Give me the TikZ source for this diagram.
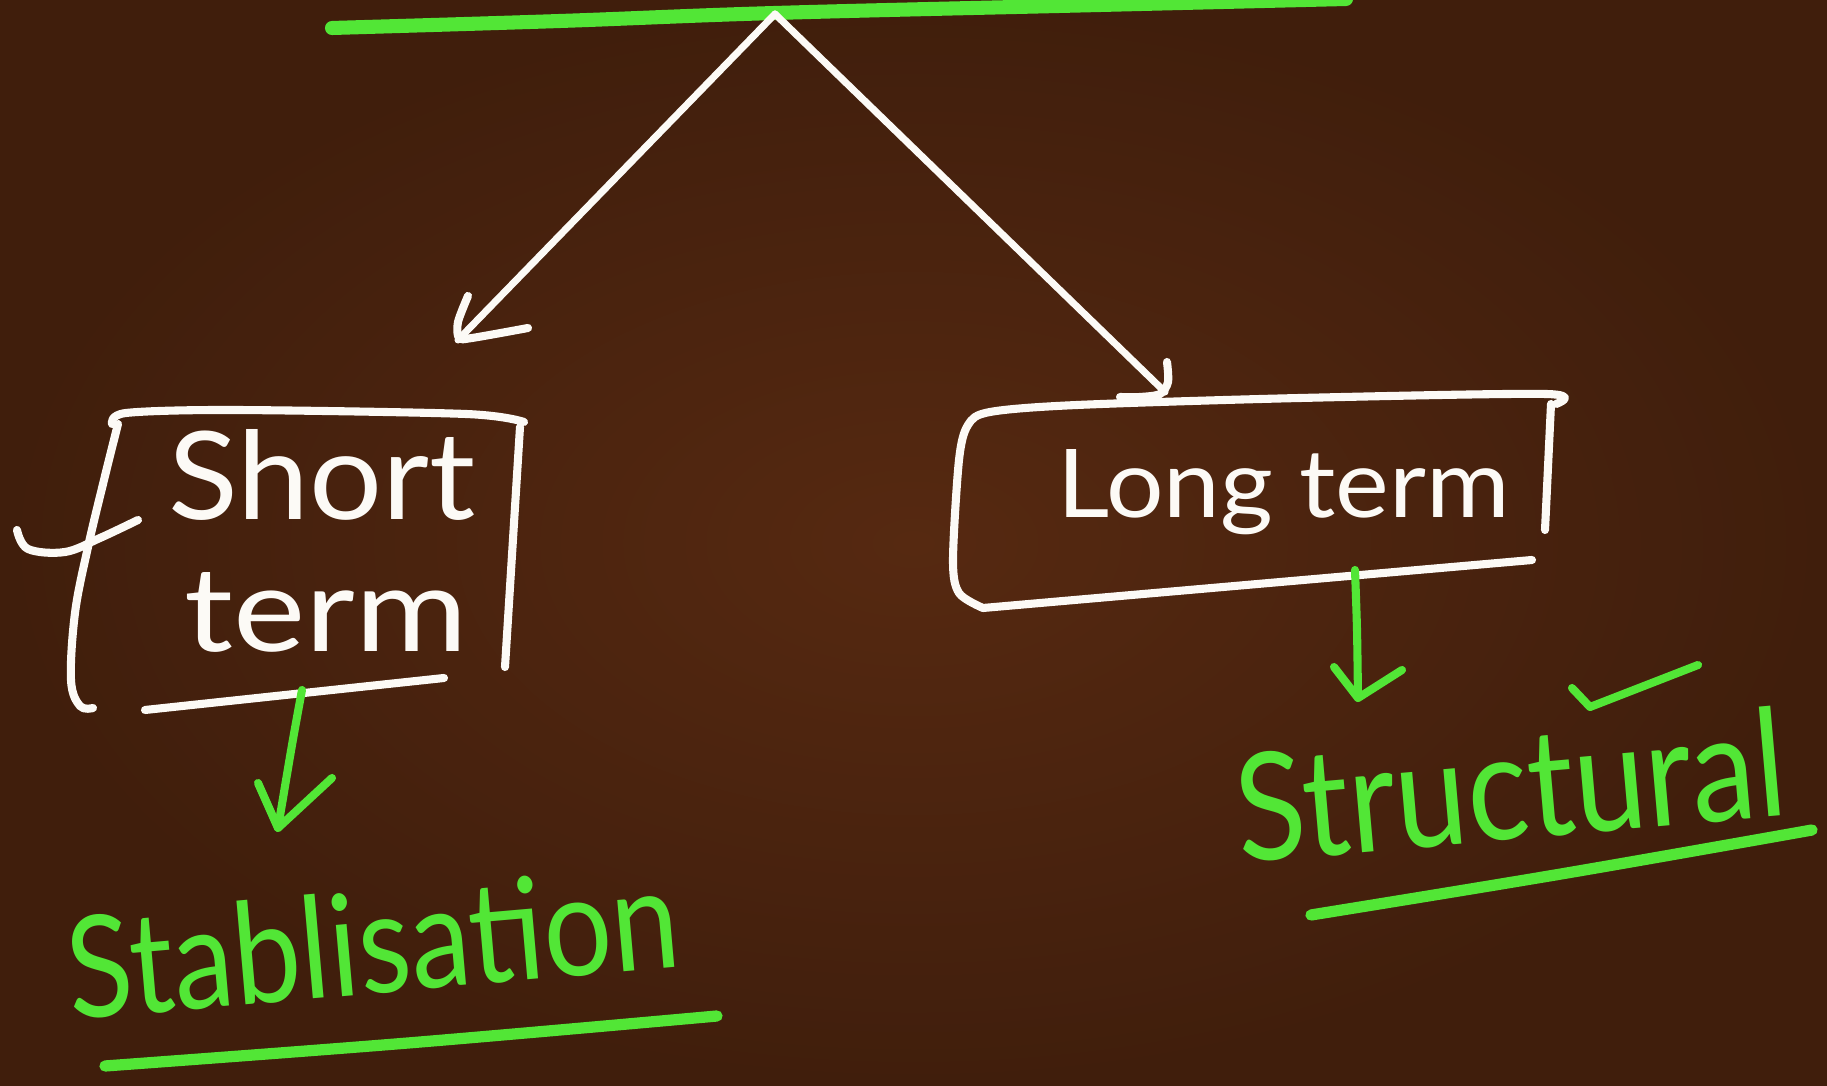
\documentclass[tikz,border=0pt]{standalone}
\usepackage{fontspec}
\setmainfont{Lato}
\usepackage{graphicx}
\newlength\pxu
\setlength\pxu{0.01cm}
\begin{document}
\begin{tikzpicture}[x=0.01cm,y=-0.01cm, line cap=round, line join=round]
\definecolor{board}{RGB}{86,41,17}
\definecolor{boardedge}{RGB}{64,30,12}
\definecolor{chalk}{RGB}{252,250,246}
\definecolor{hilite}{RGB}{82,230,54}
\tikzset{
  wline/.style={draw=chalk, line width=2.3pt},
  wshaft/.style={draw=chalk, line width=2pt},
  gline/.style={draw=hilite, line width=2.3pt},
  gbold/.style={draw=hilite, line width=3.2pt},
  hand/.style={inner sep=0pt, anchor=base west},
}
% board
\fill[inner color=board, outer color=boardedge] (0,0) rectangle (1827,1086);
\useasboundingbox (0,0) rectangle (1827,1086);

% heading underline and the split point
\draw[gbold, line width=4pt] plot[smooth, tension=0.6] coordinates {(332,28) (560,21) (775,13) (1100,5) (1346,-1)};
\coordinate (apex) at (775,14);

% short term box
\coordinate (stTip) at (458,340);
\draw[wshaft] (apex) -- (stTip);
\draw[wline] plot[smooth, tension=0.5] coordinates {(468,296) (458,322) (459,338) (472,338) (528,328)};
\draw[wline] plot[smooth, tension=0.5] coordinates {(112,424) (126,413) (233,410) (466,414) (524,422)};
\draw[wline] plot[smooth, tension=0.6] coordinates {(118,424) (104,480) (88,547) (75,613) (71,680) (80,706) (93,708)};
\draw[wline] plot[smooth, tension=0.6] coordinates {(17,530) (28,549) (65,552) (100,538) (138,520)};
\draw[wline] (520,427) -- (505,667);
\draw[wline] (145,710) -- (444,678);
\node[hand, text=chalk] (short) at (168,520) {\resizebox{307\pxu}{90\pxu}{Short}};
\node[hand, text=chalk] (term) at (184,652) {\resizebox{283\pxu}{79\pxu}{term}};

% short term leads to stabilisation
\coordinate (stOut) at (302,690);
\coordinate (stEnd) at (278,828);
\draw[gline] plot[smooth, tension=0.5] coordinates {(stOut) (292,745) (stEnd)};
\draw[gline] (stEnd) ++(-20,-45) -- (stEnd) -- ++(54,-50);
\node[hand, text=hilite, rotate=5] (stab) at (71,1020) {\resizebox{613\pxu}{104\pxu}{Stablisation}};
\draw[gbold] plot[smooth, tension=0.6] coordinates {(105,1066) (408,1043) (717,1016)};

% long term box
\coordinate (ltTip) at (1165,392);
\draw[wshaft] (apex) -- (ltTip);
\draw[wline] plot[smooth, tension=0.5] coordinates {(1167,362) (1168,382) (1160,394) (1140,397) (1120,397)};
\draw[wline] plot[smooth, tension=0.5] coordinates {(1556,404) (1546,394) (1300,398) (1077,405) (990,412) (968,425) (959,460) (953,560) (959,593) (983,608)} -- (1532,560);
\draw[wline] (1551,404) -- (1545,530);
\node[hand, text=chalk] (long) at (1057,518) {\resizebox{452\pxu}{68\pxu}{Long term}};

% long term leads to structural
\coordinate (ltOut) at (1355,570);
\coordinate (ltEnd) at (1358,698);
\draw[gline] plot[smooth, tension=0.5] coordinates {(ltOut) (1357,630) (ltEnd)};
\draw[gline] (ltEnd) ++(-24,-31) -- (ltEnd) -- ++(44,-28);
\draw[gline] (1572,688) -- (1590,707) -- (1698,665);
\node[hand, text=hilite, rotate=5] (struct) at (1240,863) {\resizebox{550\pxu}{110\pxu}{Structural}};
\draw[gbold] plot[smooth, tension=0.6] coordinates {(1311,915) (1561,874) (1812,830)};
\end{tikzpicture}
\end{document}
